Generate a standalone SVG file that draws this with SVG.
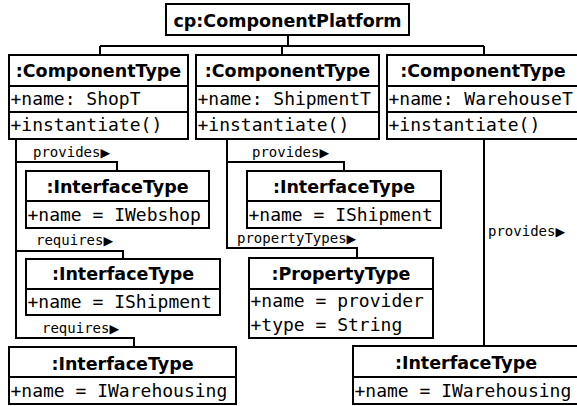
<svg xmlns="http://www.w3.org/2000/svg" width="577" height="406" viewBox="0 0 577 406">
<style>
.box{fill:#fff;stroke:#000;stroke-width:2}
.ln{fill:none;stroke:#000;stroke-width:2}
.hd{font-family:"DejaVu Sans",sans-serif;font-weight:bold;font-size:17.5px;text-anchor:middle;fill:#000}
.at{font-family:"DejaVu Sans Mono",monospace;font-size:18px;fill:#000}
.lb{font-family:"DejaVu Sans Mono",monospace;font-size:14px;fill:#000}
.tr{font-family:"DejaVu Sans",sans-serif;font-size:12.5px}
</style>
<rect width="577" height="406" fill="#fff"/>
<g id="connectors">
<path class="ln" d="M288,35V46M100,46H484M100,46V55M282,46V55M484,46V55"/>
<path class="ln" d="M16,139V338H134V347M16,162H117V171M16,251H123V259"/>
<path class="ln" d="M227,139V248H357V258M227,162H344V171"/>
<path class="ln" d="M484,139V346"/>
<text class="lb" x="33" y="157">provides<tspan class="tr">▶</tspan></text>
<text class="lb" x="36" y="245">requires<tspan class="tr">▶</tspan></text>
<text class="lb" x="42" y="333">requires<tspan class="tr">▶</tspan></text>
<text class="lb" x="252" y="157">provides<tspan class="tr">▶</tspan></text>
<text class="lb" x="237" y="243">propertyTypes<tspan class="tr">▶</tspan></text>
<text class="lb" x="488" y="236">provides<tspan class="tr">▶</tspan></text>
</g>
<g id="platform">
<rect class="box" x="166" y="4" width="243" height="31"/>
<text class="hd" x="287.5" y="27">cp:ComponentPlatform</text>
</g>
<g id="comp-shop">
<rect class="box" x="9" y="55" width="179" height="84"/>
<path class="ln" d="M9,86H188M9,112H188"/>
<text class="hd" x="98.5" y="77">:ComponentType</text>
<text class="at" x="10.5" y="105">+name: ShopT</text>
<text class="at" x="10.5" y="131">+instantiate()</text>
</g>
<g id="comp-shipment">
<rect class="box" x="196" y="55" width="183" height="84"/>
<path class="ln" d="M196,86H379M196,112H379"/>
<text class="hd" x="287.5" y="77">:ComponentType</text>
<text class="at" x="197.5" y="105">+name: ShipmentT</text>
<text class="at" x="197.5" y="131">+instantiate()</text>
</g>
<g id="comp-warehouse">
<rect class="box" x="387" y="55" width="192" height="84"/>
<path class="ln" d="M387,86H579M387,112H579"/>
<text class="hd" x="483" y="77">:ComponentType</text>
<text class="at" x="388.5" y="105">+name: WarehouseT</text>
<text class="at" x="388.5" y="131">+instantiate()</text>
</g>
<g id="if-webshop">
<rect class="box" x="26" y="171" width="183" height="57"/>
<path class="ln" d="M26,201H209"/>
<text class="hd" x="117.5" y="193">:InterfaceType</text>
<text class="at" x="27.5" y="221">+name = IWebshop</text>
</g>
<g id="if-shipment-req">
<rect class="box" x="26" y="259" width="194" height="56"/>
<path class="ln" d="M26,289H220"/>
<text class="hd" x="123" y="280">:InterfaceType</text>
<text class="at" x="27.5" y="308">+name = IShipment</text>
</g>
<g id="if-warehousing-req">
<rect class="box" x="9" y="347" width="227" height="57"/>
<path class="ln" d="M9,377H236"/>
<text class="hd" x="122.5" y="370">:InterfaceType</text>
<text class="at" x="10.5" y="397">+name = IWarehousing</text>
</g>
<g id="if-shipment">
<rect class="box" x="247" y="171" width="194" height="57"/>
<path class="ln" d="M247,201H441"/>
<text class="hd" x="344" y="193">:InterfaceType</text>
<text class="at" x="248.5" y="221">+name = IShipment</text>
</g>
<g id="property">
<rect class="box" x="249" y="258" width="184" height="80"/>
<path class="ln" d="M249,289H433"/>
<text class="hd" x="341" y="280">:PropertyType</text>
<text class="at" x="250.5" y="307">+name = provider</text>
<text class="at" x="250.5" y="331">+type = String</text>
</g>
<g id="if-warehousing">
<rect class="box" x="353" y="346" width="226" height="58"/>
<path class="ln" d="M353,377H579"/>
<text class="hd" x="466" y="369">:InterfaceType</text>
<text class="at" x="354.5" y="397">+name = IWarehousing</text>
</g>
</svg>
